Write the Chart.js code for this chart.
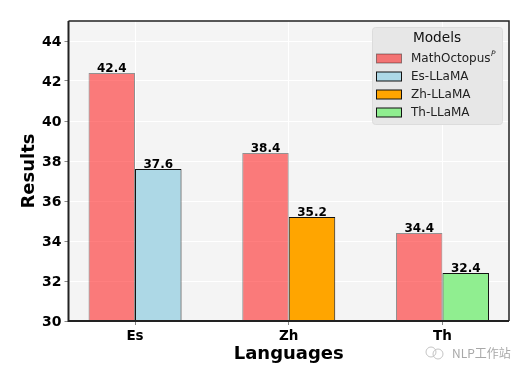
<!DOCTYPE html>
<html>
<head>
<meta charset="utf-8">
<style>
  html, body { margin: 0; padding: 0; background: #fff; }
  canvas { display: block; }
</style>
<script src="https://cdn.jsdelivr.net/npm/chart.js@4"></script>
</head>
<body>
<canvas id="chart" width="531" height="376"></canvas>
<script>
const categories = ["Es", "Zh", "Th"];
const mathOctopus = [42.4, 38.4, 34.4];
const esLlama = [37.6, null, null];
const zhLlama = [null, 35.2, null];
const thLlama = [null, null, 32.4];
const yTicks = [30, 32, 34, 36, 38, 40, 42, 44];

const sans = "'DejaVu Sans'";

function toPoints(values) {
  return values.map((v, i) => ({ x: i, y: v }));
}

// panel background behind the grid
const panelBg = {
  id: "panelBg",
  beforeDraw(chart) {
    const a = chart.chartArea;
    const ctx = chart.ctx;
    ctx.save();
    ctx.fillStyle = "#f4f4f4";
    ctx.fillRect(a.left, a.top, a.width, a.height);
    ctx.restore();
  },
};

// numbers above the bars, spines, legend box, watermark
const overlay = {
  id: "overlay",
  afterDatasetsDraw(chart) {
    const ctx = chart.ctx;
    const a = chart.chartArea;
    ctx.save();

    // value labels
    ctx.font = "bold 12px " + sans;
    ctx.fillStyle = "#000";
    ctx.textAlign = "center";
    ctx.textBaseline = "alphabetic";
    chart.data.datasets.forEach((ds, i) => {
      chart.getDatasetMeta(i).data.forEach((bar, j) => {
        const v = ds.data[j].y;
        if (v == null) return;
        ctx.fillText(v.toFixed(1), bar.x, bar.y - 1);
      });
    });

    // spines
    ctx.strokeStyle = "#222";
    ctx.lineWidth = 1.5;
    ctx.beginPath();
    ctx.moveTo(a.left, a.top);
    ctx.lineTo(a.right, a.top);
    ctx.lineTo(a.right, a.bottom);
    ctx.stroke();
    ctx.lineWidth = 2;
    ctx.beginPath();
    ctx.moveTo(a.left, a.top);
    ctx.lineTo(a.left, a.bottom);
    ctx.lineTo(a.right, a.bottom);
    ctx.stroke();

    // legend
    ctx.fillStyle = "#e7e7e7";
    ctx.strokeStyle = "#dcdcdc";
    ctx.lineWidth = 1;
    ctx.beginPath();
    ctx.roundRect(372.5, 27.5, 130, 97, 3);
    ctx.fill();
    ctx.stroke();

    ctx.fillStyle = "#111";
    ctx.font = "13.7px " + sans;
    ctx.textAlign = "center";
    ctx.textBaseline = "middle";
    ctx.fillText("Models", 437, 38.5);

    ctx.textAlign = "left";
    chart.data.datasets.forEach((ds, i) => {
      const rowY = 58.5 + i * 18;
      ctx.fillStyle = ds.backgroundColor;
      ctx.fillRect(376.5, rowY - 4.5, 25, 9);
      ctx.strokeStyle = ds.borderColor;
      ctx.lineWidth = 1;
      ctx.strokeRect(376.5, rowY - 4.5, 25, 9);
      ctx.fillStyle = "#222";
      ctx.font = "12px " + sans;
      ctx.fillText(ds.label, 411, rowY + 0.5);
      if (i === 0) {
        const w = ctx.measureText(ds.label).width;
        ctx.font = "italic 7.5px " + sans;
        ctx.fillText("P", 411 + w + 0.5, rowY - 4);
      }
    });

    // watermark
    ctx.strokeStyle = "#c4c4c4";
    ctx.lineWidth = 1;
    ctx.beginPath();
    ctx.arc(431, 352, 5, 0, Math.PI * 2);
    ctx.moveTo(443, 354);
    ctx.arc(438, 354, 5, 0, Math.PI * 2);
    ctx.stroke();
    ctx.fillStyle = "#a8a8a8";
    ctx.font = "12px 'Noto Sans CJK SC'";
    ctx.fillText("NLP工作站", 452, 353);

    ctx.restore();
  },
};

new Chart(document.getElementById("chart"), {
  type: "bar",
  data: {
    datasets: [
      {
        label: "MathOctopus",
        data: toPoints(mathOctopus),
        stack: "a",
        backgroundColor: "rgba(255,0,0,0.5)",
        borderColor: "rgba(0,0,0,0.4)",
        borderWidth: 1,
      },
      {
        label: "Es-LLaMA",
        data: toPoints(esLlama),
        stack: "b",
        backgroundColor: "#add8e6",
        borderColor: "#111",
        borderWidth: 1,
      },
      {
        label: "Zh-LLaMA",
        data: toPoints(zhLlama),
        stack: "b",
        backgroundColor: "#ffa500",
        borderColor: "#111",
        borderWidth: 1,
      },
      {
        label: "Th-LLaMA",
        data: toPoints(thLlama),
        stack: "b",
        backgroundColor: "#90ee90",
        borderColor: "#111",
        borderWidth: 1,
      },
    ],
  },
  options: {
    responsive: false,
    animation: false,
    categoryPercentage: 0.605,
    barPercentage: 1,
    layout: { padding: { left: 0, top: 21, right: 22, bottom: 0 } },
    plugins: {
      legend: { display: false },
      tooltip: { enabled: false },
    },
    scales: {
      x: {
        type: "linear",
        offset: false,
        min: -0.4327,
        max: 2.4327,
        afterBuildTicks(scale) {
          scale.ticks = categories.map((c, i) => ({ value: i }));
        },
        afterFit(scale) {
          scale.height = 55;
        },
        ticks: {
          autoSkip: false,
          maxRotation: 0,
          padding: 3,
          color: "#000",
          font: { family: sans, size: 13.5, weight: "bold" },
          callback: (v) => categories[v],
        },
        grid: { offset: false, color: "#fff", lineWidth: 1, tickColor: "#888", tickLength: 4 },
        border: { display: false },
        title: {
          display: true,
          text: "Languages",
          color: "#000",
          padding: { top: 3, bottom: 11 },
          font: { family: sans, size: 18, weight: "bold" },
        },
      },
      y: {
        stacked: true,
        min: 30,
        max: 45,
        afterBuildTicks(scale) {
          scale.ticks = yTicks.map((v) => ({ value: v }));
        },
        afterFit(scale) {
          scale.width = 68.5;
        },
        ticks: {
          padding: 3,
          labelOffset: 1,
          color: "#000",
          font: { family: sans, size: 14, weight: "bold" },
        },
        grid: { color: "#fff", lineWidth: 1, tickColor: "#888", tickLength: 4 },
        border: { display: false },
        title: {
          display: true,
          text: "Results",
          color: "#000",
          padding: { top: 19, bottom: 4 },
          font: { family: sans, size: 18, weight: "bold" },
        },
      },
    },
  },
  plugins: [panelBg, overlay],
});
</script>
</body>
</html>
